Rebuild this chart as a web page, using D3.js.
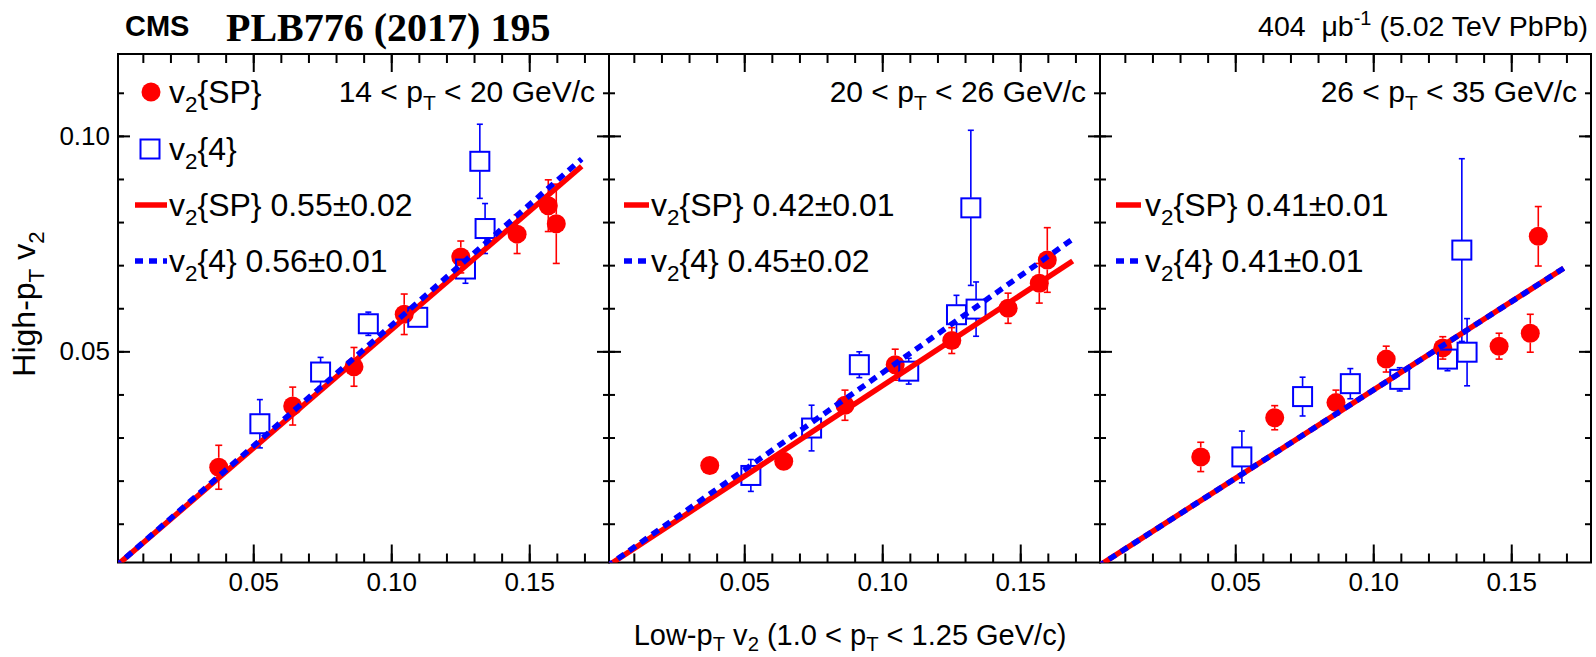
<!DOCTYPE html>
<html>
<head>
<meta charset="utf-8">
<script src="https://cdn.jsdelivr.net/npm/d3@7"></script>
<style>
body { margin: 0; background: #fff; }
svg text { font-family: "Liberation Sans", Arial, Helvetica, sans-serif; fill: #000; white-space: pre; }
</style>
</head>
<body>
<script>
// low-pT v2 (1.0 < pT < 1.25 GeV/c), one value per centrality class, same in all panels
var xSP = [0.0375, 0.0643, 0.0865, 0.1047, 0.1252, 0.1456, 0.1569, 0.1598]
var x4 = [0.0524, 0.0744, 0.0917, 0.1096, 0.1269, 0.1321, 0.1340]

// high-pT bins (one per panel)
var ptLow = [14, 20, 26]
var ptHigh = [20, 26, 35]

// high-pT v2{SP} and errors, per panel
var ySP = [
    [0.0231, 0.0373, 0.0464, 0.0586, 0.0719, 0.0772, 0.0838, 0.0796],
    [0.0235, 0.0245, 0.0375, 0.0469, 0.0525, 0.0600, 0.0658, 0.0712],
    [0.0255, 0.0346, 0.0381, 0.0482, 0.0508, 0.0512, 0.0542, 0.0767]
]
var eSP = [
    [0.0051, 0.0044, 0.0045, 0.0047, 0.0037, 0.0045, 0.0060, 0.0092],
    [0.0012, 0.0012, 0.0035, 0.0036, 0.0030, 0.0035, 0.0046, 0.0075],
    [0.0034, 0.0028, 0.0029, 0.0030, 0.0026, 0.0030, 0.0044, 0.0069]
]
// high-pT v2{4} and errors, per panel
var y4 = [
    [0.0332, 0.0452, 0.0564, 0.0579, 0.0691, 0.0941, 0.0785],
    [0.0212, 0.0322, 0.0469, 0.0454, 0.0585, 0.0833, 0.0598],
    [0.0255, 0.0395, 0.0425, 0.0435, 0.0482, 0.0735, 0.0498]
]
var e4 = [
    [0.0056, 0.0034, 0.0027, 0.0020, 0.0033, 0.0086, 0.0058],
    [0.0037, 0.0053, 0.0030, 0.0030, 0.0045, 0.0180, 0.0063],
    [0.0060, 0.0045, 0.0035, 0.0027, 0.0027, 0.0212, 0.0078]
]

// linear fits through the origin
var slopeSP = [0.55, 0.42, 0.41]
var slope4 = [0.56, 0.45, 0.41]
var fitSP = ["0.55\u00b10.02", "0.42\u00b10.01", "0.41\u00b10.01"]
var fit4 = ["0.56\u00b10.01", "0.45\u00b10.02", "0.41\u00b10.01"]
var fitRange = [0, 0.169]

var xDomain = [0.001, 0.1789]
var yDomain = [0.001, 0.119]
var xMajor = [0.05, 0.10, 0.15]
var xMinor = d3.range(1, 18).map((d) => d / 100)
var yMajor = [0.05, 0.10]
var yMinor = d3.range(1, 12).map((d) => d / 100)

const width = 1596
const height = 657
const frameTop = 54
const frameBottom = 562.5
const panelLeft = [118, 609, 1100]
const panelW = 491
const red = "#ff0000"
const blue = "#0000ff"
const legendFs = 32

// legend geometry: line sample start/end and text start, relative to panel left
var legendGeom = [[17, 49, 51], [15, 40, 42], [16, 41, 45]]
var legendRows = [92, 149, 205, 261]

var svg = d3.select("body").append("svg").attr("width", width).attr("height", height)

// text with _{sub} and ^{sup} parts
function rich(sel, str, fs, sub) {
    var parts = str.split(/(_\{[^}]*\}|\^\{[^}]*\})/).filter((s) => s.length)
    var shift = 0
    parts.forEach((p) => {
        var t = sel.append("tspan")
        var target = 0
        if (p[0] == "_" || p[0] == "^") {
            target = p[0] == "_" ? (sub || 0.27) : -0.4
            p = p.slice(2, -1)
            t.attr("font-size", fs * 0.7)
        }
        if (target != shift) t.attr("dy", (target - shift) * fs)
        shift = target
        t.text(p)
    })
    return sel
}

var y = d3.scaleLinear().domain(yDomain).range([frameBottom, frameTop])

ptLow.forEach((lo, i) => {
    var L = panelLeft[i]
    var x = d3.scaleLinear().domain(xDomain).range([L, L + panelW])
    var g = svg.append("g")

    g.append("clipPath").attr("id", "clip" + i)
        .append("rect").attr("x", L).attr("y", frameTop).attr("width", panelW).attr("height", frameBottom - frameTop)

    // ticks, all pointing inwards
    function ticks(axis, vals, size, tf, pad) {
        return axis.tickValues(vals).tickSize(-size).tickPadding(pad || 3).tickFormat(tf || (() => ""))
    }
    var gb = g.append("g").attr("transform", "translate(0," + frameBottom + ")")
    gb.call(ticks(d3.axisBottom(x), xMinor, 9))
    gb.append("g").call(ticks(d3.axisBottom(x), xMajor, 18, d3.format(".2f"), 10))
    var gt = g.append("g").attr("transform", "translate(0," + frameTop + ")")
    gt.call(ticks(d3.axisTop(x), xMinor, 9))
    gt.append("g").call(ticks(d3.axisTop(x), xMajor, 18))
    var gl = g.append("g").attr("transform", "translate(" + L + ",0)")
    gl.call(ticks(d3.axisLeft(y), yMinor, 6))
    gl.append("g").call(ticks(d3.axisLeft(y), yMajor, 12, i == 0 ? d3.format(".2f") : null, 8))
    var gr = g.append("g").attr("transform", "translate(" + (L + panelW) + ",0)")
    gr.call(ticks(d3.axisRight(y), yMinor, 6))
    gr.append("g").call(ticks(d3.axisRight(y), yMajor, 12))
    g.selectAll(".domain").remove()
    g.selectAll(".tick line").attr("stroke", "#000").attr("stroke-width", 2)
    g.selectAll(".tick text").attr("font-size", 26).attr("font-family", null).attr("fill", "#000")

    g.append("rect").attr("x", L).attr("y", frameTop).attr("width", panelW).attr("height", frameBottom - frameTop)
        .attr("fill", "none").attr("stroke", "#000").attr("stroke-width", 2)

    // error bars, leaving a gap for the marker
    function errBars(xs, ys, es, col, half, cap) {
        xs.forEach((xv, j) => {
            var cx = x(xv), cy = y(ys[j])
            var up = y(ys[j] + es[j]), dn = y(ys[j] - es[j])
            if (cy - up <= half) return
            g.append("line").attr("x1", cx).attr("x2", cx).attr("y1", up).attr("y2", cy - half)
                .attr("stroke", col).attr("stroke-width", 1.6)
            g.append("line").attr("x1", cx).attr("x2", cx).attr("y1", cy + half).attr("y2", dn)
                .attr("stroke", col).attr("stroke-width", 1.6)
            ;[up, dn].forEach((yy) => g.append("line").attr("x1", cx - cap).attr("x2", cx + cap)
                .attr("y1", yy).attr("y2", yy).attr("stroke", col).attr("stroke-width", 1.6))
        })
    }
    errBars(xSP, ySP[i], eSP[i], red, 9.5, 3.5)
    errBars(x4, y4[i], e4[i], blue, 10, 3)

    g.selectAll(".sp").data(xSP).enter().append("circle")
        .attr("cx", (d) => x(d)).attr("cy", (d, j) => y(ySP[i][j])).attr("r", 9.5).attr("fill", red)
    g.selectAll(".c4").data(x4).enter().append("rect")
        .attr("x", (d) => x(d) - 9.5).attr("y", (d, j) => y(y4[i][j]) - 9.5)
        .attr("width", 19).attr("height", 19).attr("fill", "none").attr("stroke", blue).attr("stroke-width", 2)

    // fit lines
    var line = d3.line().x((d) => x(d[0])).y((d) => y(d[1]))
    g.append("path").datum(fitRange.map((d) => [d, slopeSP[i] * d])).attr("d", line)
        .attr("clip-path", "url(#clip" + i + ")").attr("fill", "none").attr("stroke", red).attr("stroke-width", 5.5)
    g.append("path").datum(fitRange.map((d) => [d, slope4[i] * d])).attr("d", line)
        .attr("clip-path", "url(#clip" + i + ")").attr("fill", "none").attr("stroke", blue).attr("stroke-width", 5.5)
        .attr("stroke-dasharray", "8,6")

    // pT bin label
    rich(g.append("text").attr("x", L + panelW - 14).attr("y", 102).attr("text-anchor", "end").attr("font-size", 30),
        lo + " < p_{T} < " + ptHigh[i] + " GeV/c", 30)

    // legend
    var lg = legendGeom[i]
    if (i == 0) {
        g.append("circle").attr("cx", L + 33).attr("cy", legendRows[0]).attr("r", 9.5).attr("fill", red)
        g.append("rect").attr("x", L + 22.5).attr("y", legendRows[1] - 9.5).attr("width", 19).attr("height", 19)
            .attr("fill", "none").attr("stroke", blue).attr("stroke-width", 2)
        rich(g.append("text").attr("x", L + lg[2]).attr("y", legendRows[0] + 11).attr("font-size", legendFs), "v_{2}{SP}", legendFs)
        rich(g.append("text").attr("x", L + lg[2]).attr("y", legendRows[1] + 11).attr("font-size", legendFs), "v_{2}{4}", legendFs)
    }
    g.append("line").attr("x1", L + lg[0]).attr("x2", L + lg[1]).attr("y1", legendRows[2]).attr("y2", legendRows[2])
        .attr("stroke", red).attr("stroke-width", 5.5)
    g.append("line").attr("x1", L + lg[0]).attr("x2", L + lg[1]).attr("y1", legendRows[3]).attr("y2", legendRows[3])
        .attr("stroke", blue).attr("stroke-width", 5.5).attr("stroke-dasharray", "8,6")
    rich(g.append("text").attr("x", L + lg[2]).attr("y", legendRows[2] + 11).attr("font-size", legendFs), "v_{2}{SP} " + fitSP[i], legendFs)
    rich(g.append("text").attr("x", L + lg[2]).attr("y", legendRows[3] + 11).attr("font-size", legendFs), "v_{2}{4} " + fit4[i], legendFs)
})

// header
svg.append("text").attr("x", 125).attr("y", 36).attr("font-size", 29).attr("font-weight", "bold").text("CMS")
svg.append("text").attr("x", 226).attr("y", 41).attr("font-size", 40).attr("font-weight", "bold")
    .style("font-family", "'Liberation Serif', 'Times New Roman', serif").text("PLB776 (2017) 195")
rich(svg.append("text").attr("x", 1588).attr("y", 36).attr("text-anchor", "end").attr("font-size", 28.5),
    "404  \u03bcb^{-1} (5.02 TeV PbPb)", 28.5)

// axis titles
rich(svg.append("text").attr("x", 850).attr("y", 645).attr("text-anchor", "middle").attr("font-size", 29),
    "Low-p_{T} v_{2} (1.0 < p_{T} < 1.25 GeV/c)", 29, 0.2)
rich(svg.append("text").attr("transform", "translate(35,304) rotate(-90)").attr("text-anchor", "middle").attr("font-size", 32),
    "High-p_{T} v_{2}", 32)
</script>
</body>
</html>
